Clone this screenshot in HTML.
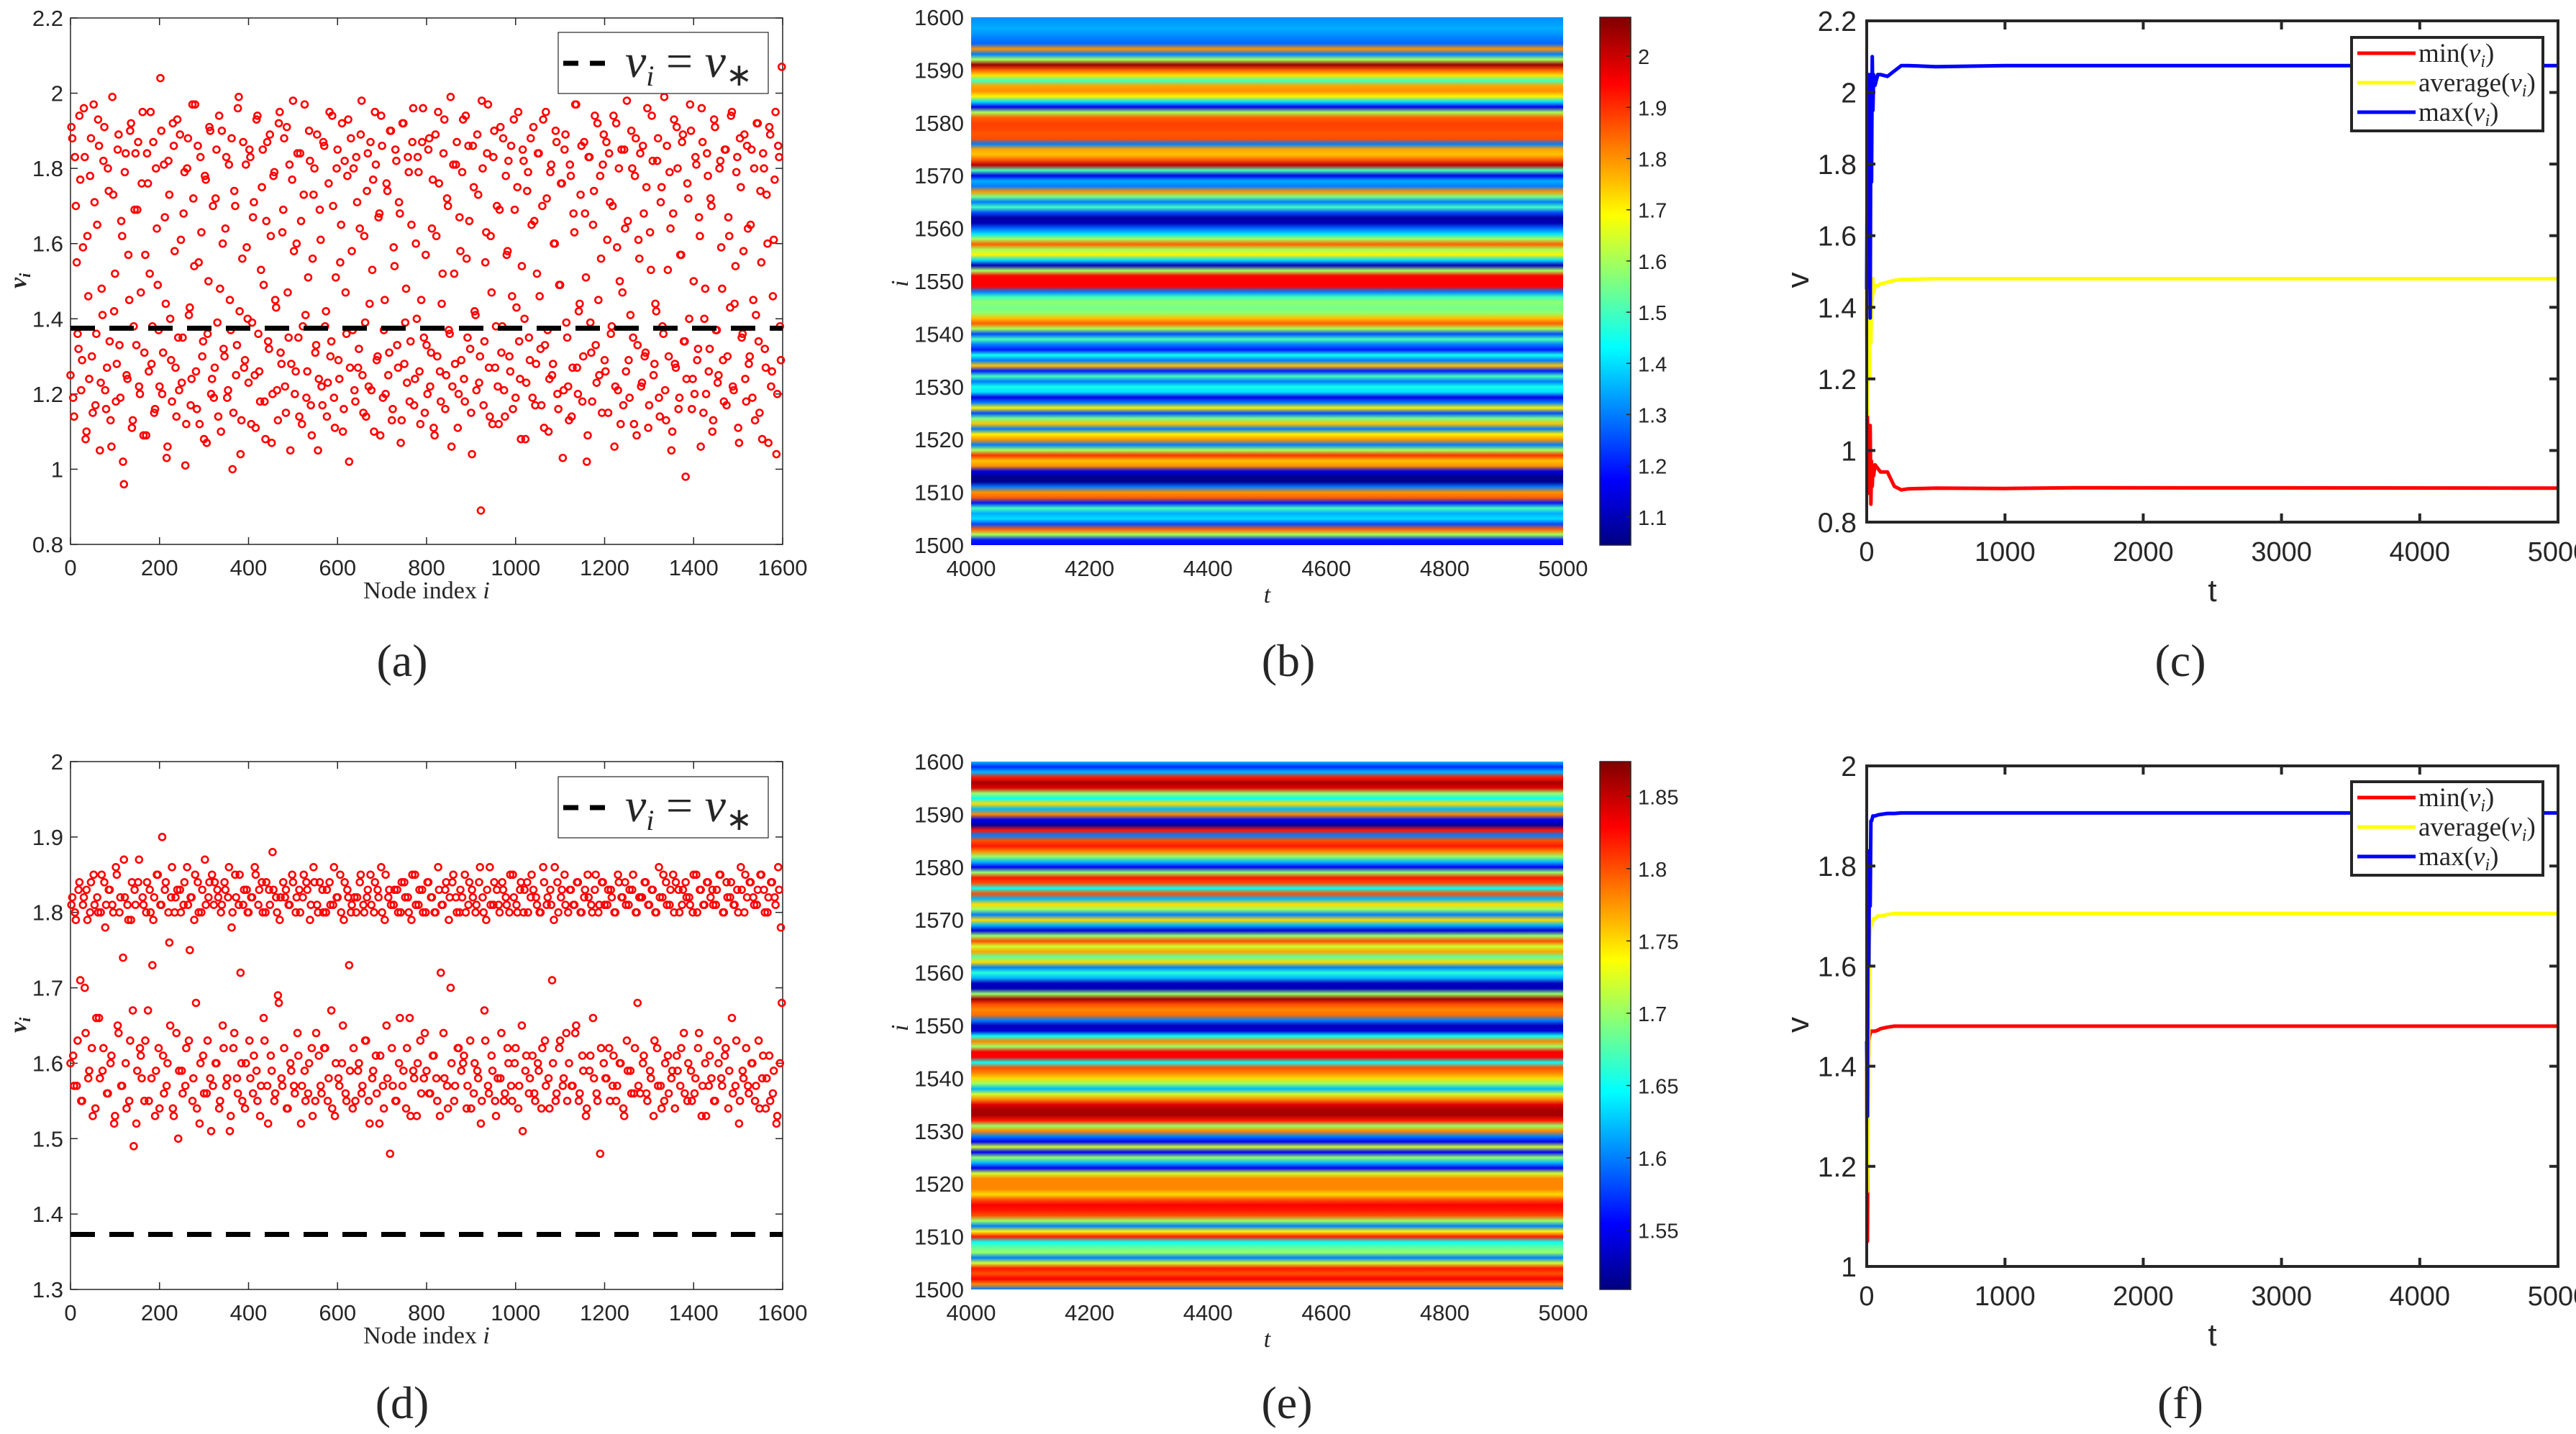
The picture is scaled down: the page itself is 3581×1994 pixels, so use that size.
<!DOCTYPE html>
<html><head><meta charset="utf-8"><style>
html,body{margin:0;padding:0;background:#fff;}
svg{display:block;}
text{fill:#262626;}
</style></head><body>
<svg id="fig" width="3581" height="1994" viewBox="0 0 3581 1994" xmlns="http://www.w3.org/2000/svg">
<defs id="defs"></defs>
</svg>
<script>
// ---------- DATA ----------
const scatterA = [
1.91,1.19,1.83,1.55,1.32,1.77,1.29,1.96,1.08,1.62,1.24,1.88,1.15,1.71,1.36,1.93,1.05,1.48,1.82,1.21,
1.27,1.74,1.13,1.99,1.42,1.18,1.85,1.33,1.66,1.02,1.79,1.25,1.57,1.90,1.11,1.38,1.84,1.69,1.22,1.47,
1.95,1.31,1.09,1.76,1.52,1.28,1.87,1.16,1.64,1.37,2.04,1.20,1.81,1.44,1.06,1.73,1.29,1.92,1.58,1.14,
1.35,1.89,1.23,1.68,1.01,1.80,1.41,1.17,1.97,1.54,1.26,1.86,1.12,1.63,1.34,1.78,1.07,1.50,1.90,1.24,
1.19,1.72,1.39,1.94,1.10,1.60,1.30,1.83,1.21,1.45,1.88,1.15,1.70,1.33,1.99,1.04,1.56,1.27,1.81,1.40,
1.85,1.12,1.67,1.25,1.93,1.36,1.18,1.75,1.49,1.08,1.87,1.32,1.62,1.20,1.79,1.43,1.13,1.95,1.28,1.69,
1.22,1.91,1.35,1.05,1.77,1.58,1.26,1.84,1.14,1.66,1.38,1.97,1.19,1.51,1.82,1.09,1.73,1.31,1.89,1.24,
1.61,1.17,1.86,1.42,1.23,1.95,1.34,1.70,1.11,1.80,1.29,1.55,1.92,1.16,1.47,1.78,1.02,1.88,1.37,1.21,
1.83,1.27,1.64,1.98,1.15,1.39,1.74,1.22,1.87,1.53,1.10,1.81,1.30,1.68,1.94,1.19,1.45,1.76,1.25,1.90,
1.13,1.59,1.85,1.33,1.71,1.07,1.92,1.28,1.48,1.83,1.18,1.65,1.96,1.24,1.40,1.79,1.12,1.87,1.35,1.57,
1.20,1.88,1.31,1.77,1.09,1.62,1.95,1.26,1.44,1.84,1.16,1.72,1.37,1.99,1.22,1.52,1.81,1.11,1.67,1.29,
1.93,1.18,1.56,1.86,1.32,1.04,1.75,1.41,1.89,1.23,0.89,1.80,1.34,1.63,1.97,1.14,1.47,1.83,1.27,1.70,
1.12,1.91,1.38,1.21,1.78,1.58,1.30,1.86,1.16,1.69,1.43,1.95,1.24,1.54,1.82,1.08,1.74,1.35,1.88,1.19,
1.66,1.28,1.84,1.46,1.17,1.93,1.33,1.72,1.10,1.79,1.25,1.60,1.90,1.20,1.49,1.76,1.03,1.85,1.39,1.22,
1.81,1.14,1.68,1.97,1.27,1.42,1.73,1.18,1.87,1.51,1.09,1.83,1.31,1.65,1.94,1.23,1.45,1.78,1.15,1.89,
1.26,1.61,1.84,1.36,1.70,1.06,1.92,1.21,1.50,1.85,1.17,1.64,1.98,1.29,1.41,1.80,1.12,1.88,1.33,1.56,
1.22,1.86,1.30,1.75,1.11,1.63,1.94,1.25,1.44,1.82,1.19,1.71,1.38,1.99,1.13,1.53,1.79,1.05,1.68,1.28,
1.91,1.16,1.57,1.87,1.34,0.98,1.76,1.40,1.90,1.24,1.20,1.81,1.32,1.62,1.96,1.15,1.48,1.84,1.26,1.72,
1.10,1.93,1.37,1.23,1.80,1.59,1.29,1.85,1.17,1.67,1.43,1.95,1.21,1.54,1.83,1.07,1.75,1.36,1.89,1.18,
1.64,1.30,1.85,1.45,1.13,1.92,1.34,1.74,1.08,1.80,1.27,1.60,1.91,1.22,1.46,1.77,1.04,1.86,1.38,2.07];
const scatterA2 = [
1.25,1.88,1.14,1.70,1.36,1.94,1.21,1.59,1.83,1.10,1.46,1.78,1.30,1.97,1.17,1.65,1.86,1.23,1.41,1.91,
1.16,1.80,1.34,1.06,1.73,1.52,1.28,1.89,1.19,1.62,0.96,1.84,1.24,1.45,1.92,1.13,1.69,1.33,1.87,1.20,
1.76,1.09,1.57,1.84,1.26,1.95,1.38,1.15,1.80,1.49,1.22,1.90,1.31,1.67,1.03,1.82,1.40,1.18,1.86,1.27,
1.93,1.21,1.61,1.35,1.79,1.12,1.88,1.43,1.24,1.72,1.97,1.16,1.55,1.83,1.30,1.08,1.77,1.36,1.91,1.20,
1.70,1.27,1.85,1.14,1.48,1.90,1.32,1.64,1.19,1.81,1.37,1.00,1.74,1.25,1.96,1.42,1.13,1.87,1.29,1.59,
1.23,1.83,1.39,1.71,1.11,1.94,1.26,1.53,1.85,1.18,1.66,1.34,1.89,1.07,1.78,1.45,1.21,1.92,1.31,1.63,
1.88,1.15,1.47,1.81,1.28,1.98,1.20,1.60,1.35,1.84,1.12,1.73,1.41,1.26,1.90,1.17,1.56,1.80,1.33,1.05,
1.69,1.22,1.87,1.38,1.14,1.76,1.30,1.94,1.19,1.51,1.85,1.24,1.65,1.10,1.82,1.36,1.93,1.27,1.58,1.80,
1.18,1.71,1.32,1.89,1.25,1.62,1.14,1.84,1.44,1.21,1.77,1.95,1.29,1.67,1.09,1.86,1.37,1.20,1.74,1.31,
1.90,1.16,1.54,1.82,1.27,1.68,1.13,1.92,1.39,1.23,1.79,1.34,1.87,1.17,1.60,1.83,1.26,1.45,1.96,1.15,
1.33,1.85,1.22,1.64,1.11,1.89,1.30,1.76,1.18,1.52,1.93,1.25,1.70,1.36,1.06,1.81,1.28,1.87,1.20,1.58,
1.79,1.24,1.94,1.35,1.66,1.15,1.86,1.42,1.21,1.73,1.30,1.98,1.17,1.55,1.84,1.27,1.62,1.12,1.90,1.38,
1.22,1.69,1.31,1.88,1.14,1.57,1.82,1.26,1.46,1.93,1.19,1.75,1.34,1.08,1.85,1.40,1.23,1.79,1.29,1.65,
1.91,1.17,1.52,1.84,1.32,1.70,1.11,1.95,1.37,1.24,1.81,1.28,1.60,1.87,1.16,1.49,1.76,1.21,1.89,1.35,
1.13,1.78,1.27,1.63,1.97,1.20,1.44,1.86,1.30,1.68,1.02,1.83,1.39,1.18,1.74,1.33,1.92,1.25,1.56,1.81,
1.29,1.87,1.15,1.71,1.38,1.94,1.22,1.59,1.80,1.12,1.47,1.85,1.26,1.66,1.19,1.90,1.35,1.78,1.09,1.61,
1.84,1.23,1.68,1.31,1.96,1.17,1.53,1.82,1.28,1.42,1.88,1.14,1.75,1.36,1.21,1.86,1.30,1.64,1.10,1.93,
1.27,1.80,1.19,1.57,1.89,1.34,1.24,1.72,1.97,1.16,1.50,1.83,1.29,1.67,1.06,1.87,1.40,1.20,1.78,1.32,
1.70,1.13,1.91,1.37,1.25,1.82,1.48,1.18,1.85,1.30,1.62,1.94,1.22,1.44,1.79,1.11,1.88,1.35,1.58,1.24,
1.86,1.28,1.65,1.19,1.80,1.41,1.92,1.15,1.55,1.84,1.32,1.73,1.07,1.89,1.26,1.61,1.95,1.20,1.83,1.29];
const scatterD = [
1.81,1.61,1.80,1.57,1.83,1.71,1.55,1.82,1.64,1.79,1.59,1.84,1.53,1.81,1.66,1.80,1.58,1.85,1.62,1.78,
1.56,1.83,1.60,1.81,1.52,1.86,1.65,1.80,1.57,1.74,1.82,1.54,1.79,1.63,1.84,1.49,1.81,1.59,1.87,1.61,
1.82,1.55,1.80,1.67,1.83,1.58,1.79,1.53,1.85,1.62,1.81,1.90,1.56,1.84,1.60,1.76,1.82,1.54,1.80,1.64,
1.50,1.83,1.59,1.81,1.57,1.86,1.63,1.82,1.55,1.79,1.68,1.84,1.52,1.80,1.61,1.87,1.56,1.82,1.58,1.85,
1.81,1.60,1.83,1.54,1.80,1.65,1.84,1.57,1.82,1.51,1.78,1.62,1.85,1.58,1.81,1.72,1.55,1.83,1.60,1.80,
1.63,1.82,1.56,1.86,1.59,1.81,1.53,1.84,1.66,1.80,1.57,1.83,1.61,1.88,1.55,1.82,1.69,1.79,1.58,1.84,
1.82,1.54,1.81,1.60,1.85,1.57,1.80,1.64,1.83,1.52,1.82,1.59,1.84,1.56,1.79,1.62,1.86,1.55,1.81,1.61,
1.57,1.83,1.62,1.80,1.55,1.84,1.67,1.81,1.53,1.82,1.58,1.85,1.60,1.79,1.56,1.83,1.73,1.80,1.54,1.82,
1.80,1.59,1.84,1.56,1.81,1.63,1.82,1.55,1.85,1.58,1.80,1.61,1.83,1.52,1.86,1.57,1.79,1.65,1.82,1.48,
1.62,1.81,1.55,1.83,1.60,1.80,1.57,1.84,1.54,1.82,1.66,1.79,1.59,1.85,1.53,1.81,1.63,1.83,1.58,1.80,
1.84,1.56,1.82,1.61,1.80,1.58,1.86,1.53,1.81,1.64,1.83,1.57,1.79,1.70,1.84,1.55,1.82,1.62,1.80,1.59,
1.60,1.85,1.54,1.81,1.63,1.83,1.56,1.80,1.59,1.84,1.52,1.82,1.67,1.79,1.57,1.86,1.61,1.81,1.55,1.83,
1.81,1.58,1.84,1.55,1.82,1.62,1.80,1.57,1.85,1.60,1.81,1.54,1.83,1.65,1.80,1.59,1.84,1.56,1.82,1.61,
1.56,1.82,1.60,1.80,1.54,1.86,1.63,1.81,1.58,1.83,1.71,1.79,1.55,1.84,1.62,1.82,1.57,1.85,1.64,1.80,
1.83,1.57,1.81,1.64,1.84,1.55,1.80,1.61,1.82,1.53,1.85,1.59,1.81,1.66,1.83,1.56,1.80,1.48,1.84,1.60,
1.58,1.81,1.62,1.83,1.57,1.80,1.55,1.85,1.60,1.82,1.54,1.84,1.63,1.81,1.59,1.83,1.56,1.80,1.68,1.82,
1.82,1.60,1.84,1.56,1.81,1.59,1.83,1.53,1.80,1.62,1.86,1.57,1.82,1.55,1.84,1.61,1.81,1.58,1.85,1.54,
1.61,1.83,1.57,1.81,1.64,1.84,1.55,1.82,1.59,1.80,1.56,1.85,1.62,1.83,1.53,1.81,1.60,1.84,1.57,1.82,
1.83,1.55,1.81,1.63,1.85,1.58,1.80,1.61,1.84,1.54,1.82,1.66,1.81,1.57,1.83,1.52,1.86,1.59,1.80,1.62,
1.57,1.84,1.60,1.82,1.55,1.81,1.63,1.85,1.58,1.83,1.54,1.80,1.61,1.84,1.56,1.82,1.52,1.86,1.60,1.68];
const scatterD2 = [
1.60,1.82,1.57,1.79,1.63,1.84,1.55,1.81,1.70,1.83,1.58,1.80,1.62,1.85,1.54,1.82,1.66,1.80,1.59,1.84,
1.81,1.56,1.83,1.61,1.80,1.53,1.85,1.64,1.82,1.57,1.87,1.60,1.81,1.55,1.79,1.67,1.83,1.52,1.84,1.62,
1.58,1.81,1.63,1.84,1.55,1.80,1.73,1.82,1.59,1.85,1.54,1.81,1.61,1.83,1.57,1.80,1.65,1.86,1.53,1.82,
1.83,1.59,1.80,1.56,1.84,1.62,1.81,1.75,1.82,1.58,1.85,1.54,1.80,1.60,1.83,1.56,1.81,1.63,1.84,1.51,
1.57,1.84,1.60,1.82,1.55,1.81,1.62,1.83,1.58,1.86,1.53,1.80,1.64,1.82,1.56,1.85,1.60,1.81,1.54,1.83,
1.80,1.58,1.82,1.61,1.85,1.55,1.83,1.57,1.80,1.63,1.84,1.52,1.81,1.59,1.83,1.56,1.80,1.68,1.82,1.57,
1.62,1.83,1.54,1.81,1.59,1.84,1.56,1.82,1.61,1.80,1.57,1.85,1.55,1.83,1.60,1.81,1.53,1.84,1.64,1.80,
1.84,1.56,1.80,1.62,1.83,1.58,1.81,1.54,1.86,1.60,1.82,1.57,1.80,1.65,1.84,1.55,1.82,1.59,1.81,1.62,
1.55,1.82,1.60,1.85,1.57,1.80,1.63,1.83,1.52,1.81,1.59,1.84,1.56,1.82,1.61,1.80,1.54,1.85,1.58,1.83,
1.81,1.57,1.83,1.55,1.80,1.66,1.84,1.59,1.82,1.62,1.80,1.53,1.85,1.58,1.81,1.60,1.83,1.56,1.80,1.64,
1.59,1.84,1.56,1.82,1.61,1.80,1.55,1.83,1.72,1.81,1.58,1.84,1.54,1.82,1.60,1.85,1.57,1.80,1.62,1.83,
1.82,1.61,1.80,1.57,1.84,1.54,1.82,1.60,1.81,1.58,1.86,1.55,1.80,1.63,1.83,1.56,1.81,1.59,1.84,1.53,
1.58,1.80,1.64,1.83,1.56,1.81,1.60,1.85,1.55,1.82,1.62,1.80,1.57,1.84,1.51,1.83,1.61,1.80,1.58,1.85,
1.83,1.55,1.81,1.59,1.80,1.62,1.84,1.57,1.82,1.54,1.81,1.60,1.86,1.56,1.80,1.63,1.83,1.58,1.81,1.55,
1.60,1.83,1.57,1.81,1.65,1.84,1.56,1.80,1.59,1.83,1.54,1.82,1.61,1.80,1.58,1.85,1.55,1.81,1.62,1.84,
1.81,1.58,1.83,1.55,1.82,1.61,1.80,1.57,1.84,1.60,1.82,1.53,1.81,1.59,1.83,1.56,1.85,1.62,1.80,1.57,
1.56,1.82,1.61,1.84,1.55,1.81,1.58,1.83,1.63,1.80,1.57,1.82,1.54,1.85,1.60,1.81,1.56,1.83,1.59,1.80,
1.84,1.59,1.80,1.62,1.83,1.56,1.82,1.60,1.81,1.55,1.85,1.58,1.80,1.64,1.83,1.57,1.81,1.53,1.84,1.61,
1.58,1.81,1.55,1.83,1.60,1.85,1.57,1.80,1.62,1.82,1.59,1.84,1.56,1.81,1.63,1.80,1.55,1.83,1.58,1.85,
1.82,1.56,1.84,1.60,1.81,1.57,1.83,1.54,1.85,1.61,1.80,1.58,1.82,1.55,1.84,1.59,1.81,1.53,1.83,1.78];
const vStarA = 1.375;
const vStarD = 1.373;
// heatmap rows from i=1600 down to i=1500
const heatB = [1.32,1.33,1.35,1.33,1.30,1.28,1.80,1.30,1.60,2.05,1.85,1.72,1.50,1.78,1.80,1.70,1.40,1.15,1.60,1.85,
1.88,1.88,1.86,1.87,1.30,1.78,1.75,1.85,2.02,1.50,1.15,1.35,1.30,1.80,1.55,1.30,1.50,1.25,1.08,1.10,
1.28,1.40,1.60,1.85,1.60,1.70,1.40,1.10,1.60,1.95,1.95,1.95,1.30,1.50,1.58,1.55,1.58,1.75,1.85,1.60,
1.25,1.50,1.30,1.20,1.45,1.30,1.75,1.20,1.50,1.30,1.45,1.40,1.15,1.30,1.70,1.25,1.55,1.75,1.30,1.70,
1.80,1.30,1.60,1.90,1.75,1.80,1.15,1.06,1.06,1.30,1.80,1.85,1.20,1.50,1.35,1.40,1.25,1.85,1.60,1.20,1.18];
const heatE = [1.62,1.57,1.62,1.82,1.86,1.84,1.70,1.65,1.75,1.62,1.78,1.55,1.52,1.82,1.60,1.80,1.82,1.78,1.70,1.62,
1.55,1.70,1.82,1.80,1.65,1.80,1.62,1.75,1.70,1.60,1.75,1.62,1.54,1.70,1.80,1.72,1.77,1.68,1.75,1.60,
1.66,1.62,1.53,1.53,1.70,1.86,1.80,1.78,1.79,1.60,1.53,1.54,1.65,1.78,1.70,1.83,1.83,1.65,1.80,1.78,
1.75,1.70,1.62,1.72,1.78,1.84,1.86,1.86,1.82,1.70,1.78,1.60,1.55,1.72,1.55,1.70,1.62,1.55,1.72,1.78,
1.78,1.78,1.75,1.80,1.83,1.82,1.80,1.70,1.60,1.74,1.82,1.65,1.68,1.70,1.60,1.72,1.82,1.80,1.83,1.78,1.60];
const tVals = [0,5,10,15,20,25,30,35,40,45,50,60,80,100,150,200,250,300,500,1000,1500,5000];
const maxC = [1.45,1.95,2.05,1.80,2.05,1.37,2.00,1.75,2.10,1.95,2.05,2.02,2.05,2.05,2.045,2.06,2.075,2.075,2.072,2.075,2.075,2.075];
const avgC = [1.45,1.10,1.35,1.50,1.20,1.55,1.30,1.45,1.42,1.48,1.44,1.46,1.46,1.465,1.47,1.475,1.478,1.478,1.48,1.48,1.48,1.48];
const minC = [1.42,1.10,0.90,1.05,0.88,1.07,0.85,0.97,0.90,0.95,0.93,0.96,0.95,0.94,0.94,0.90,0.89,0.893,0.895,0.894,0.896,0.895];
const maxF = [1.45,1.30,1.83,1.60,1.82,1.72,1.89,1.89,1.895,1.90,1.90,1.90,1.902,1.903,1.905,1.905,1.906,1.906,1.906,1.906,1.906,1.906];
const avgF = [1.45,1.15,1.26,1.50,1.65,1.67,1.68,1.685,1.69,1.69,1.695,1.695,1.70,1.70,1.703,1.705,1.705,1.705,1.705,1.705,1.705,1.705];
const minF = [1.40,1.05,1.30,1.45,1.46,1.465,1.47,1.47,1.47,1.47,1.47,1.47,1.472,1.475,1.478,1.48,1.48,1.48,1.48,1.48,1.48,1.48];
const scatterXTicks = [0,200,400,600,800,1000,1200,1400,1600];
const yTicksA = [0.8,1,1.2,1.4,1.6,1.8,2,2.2];
const yTicksD = [1.3,1.4,1.5,1.6,1.7,1.8,1.9,2];
const heatXTicks = [4000,4200,4400,4600,4800,5000];
const heatYTicks = [1500,1510,1520,1530,1540,1550,1560,1570,1580,1590,1600];
const cbTicksB = [1.1,1.2,1.3,1.4,1.5,1.6,1.7,1.8,1.9,2];
const cbTicksE = [1.55,1.6,1.65,1.7,1.75,1.8,1.85];
const lineXTicks = [0,1000,2000,3000,4000,5000];
const yTicksC = [0.8,1,1.2,1.4,1.6,1.8,2,2.2];
const yTicksF = [1,1.2,1.4,1.6,1.8,2];

// ---------- HELPERS ----------
const NS = "http://www.w3.org/2000/svg";
const svg = document.getElementById('fig');
const defs = document.getElementById('defs');
function el(tag, attrs, parent){
  const e = document.createElementNS(NS, tag);
  for (const k in attrs) e.setAttribute(k, attrs[k]);
  (parent||svg).appendChild(e);
  return e;
}
function lin(d0,d1,r0,r1){ return v => r0 + (v-d0)/(d1-d0)*(r1-r0); }
function fmt(v){ return String(+v.toFixed(2)); }
function jet(t){
  t = Math.max(0,Math.min(1,t));
  const c = x => Math.round(255*Math.max(0,Math.min(1,x)));
  return `rgb(${c(1.5-Math.abs(4*t-3))},${c(1.5-Math.abs(4*t-2))},${c(1.5-Math.abs(4*t-1))})`;
}
function txt(x,y,s,opts,parent){
  const t = el('text', Object.assign({x:x,y:y,'font-family':'"Liberation Sans", sans-serif','font-size':30}, opts||{}), parent);
  t.textContent = s;
  return t;
}
function panelLabel(cx, y, s){
  const t = txt(cx, y, s, {'text-anchor':'middle','font-family':'"Liberation Serif", serif','font-size':64,fill:'#000'});
  
  
}

// ---------- SCATTER PANELS ----------
function scatterPanel(cfg){
  const g = el('g', {});
  
  
  const {x0,x1,y0,y1} = cfg;
  const sx = lin(0,1600,x0,x1), sy = lin(cfg.ymin,cfg.ymax,y1,y0);
  el('rect',{x:x0,y:y0,width:x1-x0,height:y1-y0,fill:'#fff',stroke:'#262626','stroke-width':1.5},g);
  scatterXTicks.forEach(v=>{
    const x = sx(v);
    el('line',{x1:x,x2:x,y1:y1,y2:y1-10,stroke:'#262626','stroke-width':1.5},g);
    el('line',{x1:x,x2:x,y1:y0,y2:y0+10,stroke:'#262626','stroke-width':1.5},g);
    const t = txt(x, y1+43, String(v), {'text-anchor':'middle','font-size':31}, g);
    
    
  });
  cfg.yTicks.forEach(v=>{
    const y = sy(v);
    el('line',{x1:x0,x2:x0+10,y1:y,y2:y,stroke:'#262626','stroke-width':1.5},g);
    el('line',{x1:x1,x2:x1-10,y1:y,y2:y,stroke:'#262626','stroke-width':1.5},g);
    const t = txt(x0-10, y+11, fmt(v), {'text-anchor':'end','font-size':31}, g);
    
    
  });
  const pts = el('g',{fill:'none',stroke:'#ff0000','stroke-width':2.6},g);
  
  
  cfg.data.forEach((v,k)=>{
    const c = el('circle',{cx:sx(k*4+2),cy:sy(v),r:4.5},pts);
    
    
  });
  cfg.data2.forEach((v,k)=>{
    const c = el('circle',{cx:sx(k*4),cy:sy(v),r:4.5},pts);
    
    
  });
  const dl = el('line',{x1:x0,x2:x1,y1:sy(cfg.vstar),y2:sy(cfg.vstar),stroke:'#000','stroke-width':7,'stroke-dasharray':'34 20'},g);
  
  
  // legend
  const lg = el('g',{},g);
  
  
  el('rect',{x:776,y:cfg.ly,width:292,height:85,fill:'#fff',stroke:'#262626','stroke-width':1.2},lg);
  el('line',{x1:783,x2:849,y1:cfg.ly+43,y2:cfg.ly+43,stroke:'#000','stroke-width':7,'stroke-dasharray':'21 16'},lg);
  const lt = el('text',{x:869,y:cfg.ly+62,'font-family':'"Liberation Serif", serif','font-size':66,fill:'#000'},lg);
  
  
  lt.innerHTML = '<tspan font-style="italic">v</tspan><tspan font-style="italic" font-size="40" dy="12">i</tspan><tspan dy="-12"> = </tspan><tspan font-style="italic">v</tspan><tspan font-size="44" dy="12">∗</tspan>';
  const xl = txt((x0+x1)/2, y1+75, '', {'text-anchor':'middle','font-family':'"Liberation Serif", serif','font-size':34}, g);
  xl.innerHTML = 'Node index <tspan font-style="italic">i</tspan>';
  
  
  const yl = txt(0,0,'',{'font-family':'"Liberation Serif", serif','font-size':34,'font-style':'italic','font-weight':'bold',transform:`translate(36,${(y0+y1)/2+10}) rotate(-90)`},g);
  yl.innerHTML = 'v<tspan font-size="22" dy="6">i</tspan>';
  
  
}
scatterPanel({name:'scatter-panel-a',x0:98,x1:1088,y0:25,y1:757,ymin:0.8,ymax:2.2,yTicks:yTicksA,data:scatterA,data2:scatterA2,vstar:vStarA,ly:45});
scatterPanel({name:'scatter-panel-d',x0:98,x1:1088,y0:1059,y1:1793,ymin:1.3,ymax:2.0,yTicks:yTicksD,data:scatterD,data2:scatterD2,vstar:vStarD,ly:1080});

// ---------- HEATMAP PANELS ----------
function heatPanel(cfg){
  const g = el('g',{});
  
  
  const {x0,x1,y0,y1} = cfg;
  const sy = lin(1500,1600,y1,y0), sx = lin(4000,5000,x0,x1);
  const gid = cfg.name+'-grad';
  const grad = el('linearGradient',{id:gid,x1:0,y1:y0,x2:0,y2:y1,gradientUnits:'userSpaceOnUse'},defs);
  cfg.data.forEach((v,k)=>{
    const i = 1600-k;
    el('stop',{offset:((sy(i)-y0)/(y1-y0)).toFixed(4),'stop-color':jet((v-cfg.cmin)/(cfg.cmax-cfg.cmin))},grad);
  });
  const hm = el('rect',{x:x0,y:y0,width:x1-x0,height:y1-y0,fill:`url(#${gid})`},g);
  
  
  heatXTicks.forEach(v=>{
    const t = txt(sx(v), y1+43, String(v), {'text-anchor':'middle','font-size':31}, g);
    
    
  });
  heatYTicks.forEach(v=>{
    const t = txt(x0-10, sy(v)+11, String(v), {'text-anchor':'end','font-size':31}, g);
    
    
  });
  const xl = txt((x0+x1)/2, y1+80, 't', {'text-anchor':'middle','font-family':'"Liberation Serif", serif','font-size':34,'font-style':'italic'}, g);
  
  
  const yl = txt(0,0,'i',{'font-family':'"Liberation Serif", serif','font-size':34,'font-style':'italic',transform:`translate(1262,${(y0+y1)/2+8}) rotate(-90)`},g);
  
  
  // colorbar
  const cx0 = 2224, cx1 = 2267;
  const cg = el('linearGradient',{id:gid+'-cb',x1:0,y1:1,x2:0,y2:0},defs);
  for (let s=0;s<=16;s++) el('stop',{offset:s/16,'stop-color':jet(s/16)},cg);
  const cb = el('rect',{x:cx0,y:y0,width:cx1-cx0,height:y1-y0,fill:`url(#${gid}-cb)`,stroke:'#262626','stroke-width':1.5},g);
  
  
  const sc = lin(cfg.cmin,cfg.cmax,y1,y0);
  cfg.cbTicks.forEach(v=>{
    el('line',{x1:cx1,x2:cx1-6,y1:sc(v),y2:sc(v),stroke:'#262626','stroke-width':1.5},g);
    const t = txt(cx1+10, sc(v)+11, fmt(v), {'font-size':29}, g);
    
    
  });
}
heatPanel({name:'heatmap-panel-b',x0:1350,x1:2173,y0:24,y1:758,data:heatB,cmin:1.045,cmax:2.076,cbTicks:cbTicksB});
heatPanel({name:'heatmap-panel-e',x0:1350,x1:2173,y0:1059,y1:1793,data:heatE,cmin:1.509,cmax:1.874,cbTicks:cbTicksE});

// ---------- LINE PANELS ----------
function linePanel(cfg){
  const g = el('g',{});
  
  
  const {x0,x1,y0,y1} = cfg;
  const sx = lin(0,5000,x0,x1), sy = lin(cfg.ymin,cfg.ymax,y1,y0);
  const series = [[cfg.minv,'#ff0000','min-line'],[cfg.avg,'#ffff00','average-line'],[cfg.maxv,'#0000ff','max-line']];
  series.forEach(([arr,col,nm])=>{
    const d = arr.map((v,k)=>(k?'L':'M')+sx(tVals[k]).toFixed(1)+','+sy(v).toFixed(1)).join(' ');
    const p = el('path',{d:d,fill:'none',stroke:col,'stroke-width':5,'stroke-linejoin':'round'},g);
    
    
  });
  el('rect',{x:x0,y:y0,width:x1-x0,height:y1-y0,fill:'none',stroke:'#262626','stroke-width':4},g);
  lineXTicks.forEach(v=>{
    const x = sx(v);
    el('line',{x1:x,x2:x,y1:y1,y2:y1-12,stroke:'#262626','stroke-width':4},g);
    el('line',{x1:x,x2:x,y1:y0,y2:y0+12,stroke:'#262626','stroke-width':4},g);
    const t = txt(x, y1+54, String(v), {'text-anchor':'middle','font-size':38}, g);
    
    
  });
  cfg.yTicks.forEach(v=>{
    const y = sy(v);
    el('line',{x1:x0,x2:x0+12,y1:y,y2:y,stroke:'#262626','stroke-width':4},g);
    el('line',{x1:x1,x2:x1-12,y1:y,y2:y,stroke:'#262626','stroke-width':4},g);
    const t = txt(x0-14, y+14, fmt(v), {'text-anchor':'end','font-size':39}, g);
    
    
  });
  const xl = txt((x0+x1)/2, y1+110, 't', {'text-anchor':'middle','font-size':44}, g);
  
  
  const yl = txt(0,0,'v',{'font-size':44,transform:`translate(2514,${(y0+y1)/2+12}) rotate(-90)`,'text-anchor':'middle'},g);
  
  
  const lg = el('g',{},g);
  
  
  el('rect',{x:3269,y:cfg.ly,width:266,height:130,fill:'#fff',stroke:'#262626','stroke-width':4},lg);
  const labels = ['min','average','max'];
  const cols = ['#ff0000','#ffff00','#0000ff'];
  labels.forEach((lb,k)=>{
    const yy = cfg.ly+22+k*41;
    el('line',{x1:3277,x2:3358,y1:yy,y2:yy,stroke:cols[k],'stroke-width':5},lg);
    const t = el('text',{x:3362,y:yy+12,'font-family':'"Liberation Serif", serif','font-size':37,fill:'#000'},lg);
    
    
    t.innerHTML = lb+'(<tspan font-style="italic">v</tspan><tspan font-style="italic" font-size="24" dy="7">i</tspan><tspan dy="-7">)</tspan>';
  });
}
linePanel({name:'line-panel-c',x0:2595,x1:3556,y0:29,y1:726,ymin:0.8,ymax:2.2,yTicks:yTicksC,minv:minC,avg:avgC,maxv:maxC,ly:52});
linePanel({name:'line-panel-f',x0:2595,x1:3556,y0:1065,y1:1761,ymin:1.0,ymax:2.0,yTicks:yTicksF,minv:minF,avg:avgF,maxv:maxF,ly:1087});

panelLabel(559, 940, '(a)');
panelLabel(1791, 940, '(b)');
panelLabel(3031, 940, '(c)');
panelLabel(559, 1972, '(d)');
panelLabel(1789, 1972, '(e)');
panelLabel(3031, 1972, '(f)');
</script>
</body></html>
